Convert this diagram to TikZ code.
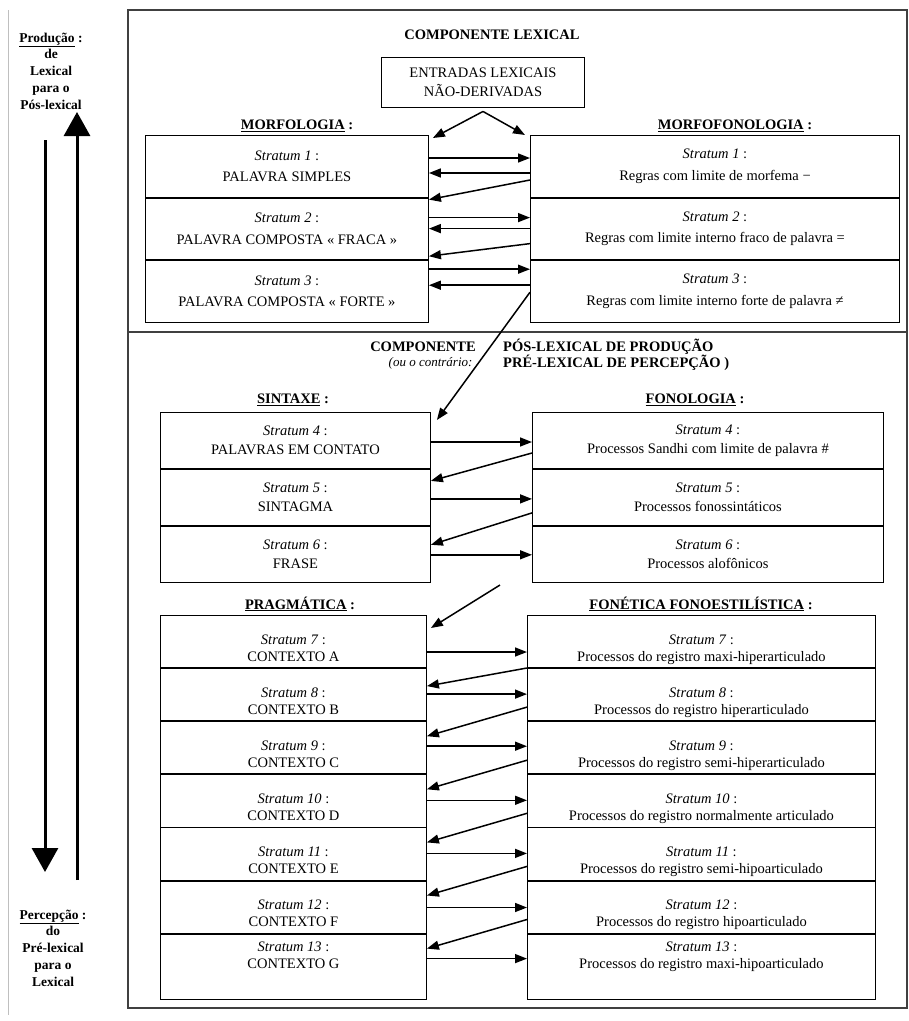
\documentclass[tikz,border=0pt]{standalone}
\usepackage{fontspec}
\setmainfont{Liberation Serif}
\usetikzlibrary{positioning, arrows.meta}

\begin{document}
\begin{tikzpicture}[
    x=1pt, y=-1pt,
    font=\fontsize{14.5}{19}\selectfont,
    heading/.style={font=\fontsize{14.5}{17}\selectfont\bfseries, inner sep=1pt},
    side/.style={font=\fontsize{13.5}{16.8}\selectfont\bfseries, align=center},
    cell/.style={draw, line width=0.9pt, align=center, inner sep=0pt},
    morf/.style={cell, font=\fontsize{14.5}{21.5}\selectfont, minimum width=283pt, minimum height=61.7pt},
    morfofon/.style={morf, minimum width=369pt},
    sint/.style={cell, font=\fontsize{14.5}{19}\selectfont, minimum width=270pt, minimum height=56pt},
    fon/.style={sint, minimum width=351pt},
    prag/.style={cell, font=\fontsize{14.5}{17}\selectfont, text height=43pt, text depth=4pt,
        minimum width=266pt, minimum height=52.2pt},
    fonet/.style={prag, minimum width=348pt},
    last/.style={minimum height=65pt, text height=27pt, text depth=23pt},
    link/.style={-{Triangle[length=12pt,width=9pt]}, line width=1.5pt},
    flow/.style={-{Triangle[length=24pt,width=26pt]}, line width=3pt}
]
    \useasboundingbox (0,0) rectangle (909,1021);

    % frame of the diagram and side column
    \draw[line width=1.3pt, black!75] (128,10) rectangle (907,1008);
    \draw[line width=1.3pt, black!75] (128,332) -- (907,332);
    \draw[line width=1pt, black!25] (8,10) -- (8,1015);

    % direction of the process
    \node[side] (prod) at (51,71) {\underline{Produção} :\\de\\Lexical\\para o\\Pós-lexical};
    \node[side] (perc) at (53,948) {\underline{Percepção} :\\do\\Pré-lexical\\para o\\Lexical};
    \coordinate (downtop) at (45,140);
    \coordinate (downend) at (45,872);
    \coordinate (upstart) at (77,880);
    \coordinate (upend) at (77,112);
    \draw[flow] (downtop) -- (downend);
    \draw[flow] (upstart) -- (upend);

    % lexical component
    \node[heading] (lexcomp) at (492,35) {COMPONENTE LEXICAL};
    \node[draw, line width=0.9pt, minimum width=203pt, minimum height=50pt, align=center] (entradas) at (483,82) {ENTRADAS LEXICAIS\\NÃO-DERIVADAS};
    \node[heading] (morfol) at (297,126) {\underline{MORFOLOGIA} :};
    \node[heading] (morfofonol) at (735,126) {\underline{MORFOFONOLOGIA} :};

    \node[morf, anchor=north west] (m1) at (145,135) {\textit{Stratum 1} :\\PALAVRA SIMPLES};
    \node[morf, below=0pt of m1] (m2) {\textit{Stratum 2} :\\PALAVRA COMPOSTA « FRACA »};
    \node[morf, below=0pt of m2] (m3) {\textit{Stratum 3} :\\PALAVRA COMPOSTA « FORTE »};

    \node[morfofon, anchor=north west] (mf1) at (530,135) {\textit{Stratum 1} :\\Regras com limite de morfema −};
    \node[morfofon, below=0pt of mf1] (mf2) {\textit{Stratum 2} :\\Regras com limite interno fraco de palavra =};
    \node[morfofon, below=0pt of mf2] (mf3) {\textit{Stratum 3} :\\Regras com limite interno forte de palavra ≠};

    \draw[link] ([yshift=-4pt]entradas.south) -- ([xshift=4pt,yshift=-3pt]m1.north east);
    \draw[link] ([yshift=-4pt]entradas.south) -- ([xshift=-5pt]mf1.north west);

    \draw[link] ([yshift=-23pt]m1.north east) -- ([yshift=-23pt]mf1.north west);
    \draw[link] ([yshift=-38pt]mf1.north west) -- ([yshift=-38pt]m1.north east);
    \draw[link] ([yshift=-45pt]mf1.north west) -- ([yshift=-2pt]m2.north east);
    \draw[link] ([yshift=-20pt]m2.north east) -- ([yshift=-20pt]mf2.north west);
    \draw[link] ([yshift=-31pt]mf2.north west) -- ([yshift=-31pt]m2.north east);
    \draw[link] ([yshift=-46pt]mf2.north west) -- ([yshift=4pt]m3.north east);
    \draw[link] ([yshift=-9pt]m3.north east) -- ([yshift=-9pt]mf3.north west);
    \draw[link] ([yshift=-25pt]mf3.north west) -- ([yshift=-25pt]m3.north east);

    % post-lexical component
    \node[heading, anchor=east] (compo) at (477,347) {COMPONENTE};
    \node[anchor=east, font=\fontsize{13}{16}\selectfont\itshape] (contr) at (476,363) {(ou o contrário:};
    \node[heading, anchor=west] (poslex) at (502,347) {PÓS-LEXICAL DE PRODUÇÃO};
    \node[heading, anchor=west] (prelex) at (502,363) {PRÉ-LEXICAL DE PERCEPÇÃO )};

    \node[heading] (sintaxe) at (293,400) {\underline{SINTAXE} :};
    \node[heading] (fonologia) at (695,400) {\underline{FONOLOGIA} :};

    \node[sint, anchor=north west] (s4) at (160,412) {\textit{Stratum 4} :\\PALAVRAS EM CONTATO};
    \node[sint, below=0pt of s4] (s5) {\textit{Stratum 5} :\\SINTAGMA};
    \node[sint, below=0pt of s5] (s6) {\textit{Stratum 6} :\\FRASE};

    \node[fon, anchor=north west] (p4) at (532,412) {\textit{Stratum 4} :\\Processos Sandhi com limite de palavra \#};
    \node[fon, below=0pt of p4] (p5) {\textit{Stratum 5} :\\Processos fonossintáticos};
    \node[fon, below=0pt of p5] (p6) {\textit{Stratum 6} :\\Processos alofônicos};

    \draw[link] ([yshift=-32pt]mf3.north west) -- ([xshift=6pt,yshift=-8pt]s4.north east);

    \draw[link] ([yshift=-30pt]s4.north east) -- ([yshift=-30pt]p4.north west);
    \draw[link] ([yshift=-41pt]p4.north west) -- ([yshift=-12pt]s5.north east);
    \draw[link] ([yshift=-30pt]s5.north east) -- ([yshift=-30pt]p5.north west);
    \draw[link] ([yshift=-44pt]p5.north west) -- ([yshift=-19pt]s6.north east);
    \draw[link] ([yshift=-29pt]s6.north east) -- ([yshift=-29pt]p6.north west);

    % pragmatics and phonetics
    \node[heading] (pragm) at (300,604) {\underline{PRAGMÁTICA} :};
    \node[heading] (fonet) at (701,604) {\underline{FONÉTICA FONOESTILÍSTICA} :};

    \node[prag, anchor=north west] (c7) at (160,615) {\textit{Stratum 7} :\\CONTEXTO A};
    \node[prag, below=0pt of c7] (c8) {\textit{Stratum 8} :\\CONTEXTO B};
    \node[prag, below=0pt of c8] (c9) {\textit{Stratum 9} :\\CONTEXTO C};
    \node[prag, below=0pt of c9] (c10) {\textit{Stratum 10} :\\CONTEXTO D};
    \node[prag, below=0pt of c10] (c11) {\textit{Stratum 11} :\\CONTEXTO E};
    \node[prag, below=0pt of c11] (c12) {\textit{Stratum 12} :\\CONTEXTO F};
    \node[prag, last, below=0pt of c12] (c13) {\textit{Stratum 13} :\\CONTEXTO G};

    \node[fonet, anchor=north west] (r7) at (527,615) {\textit{Stratum 7} :\\Processos do registro maxi-hiperarticulado};
    \node[fonet, below=0pt of r7] (r8) {\textit{Stratum 8} :\\Processos do registro hiperarticulado};
    \node[fonet, below=0pt of r8] (r9) {\textit{Stratum 9} :\\Processos do registro semi-hiperarticulado};
    \node[fonet, below=0pt of r9] (r10) {\textit{Stratum 10} :\\Processos do registro normalmente articulado};
    \node[fonet, below=0pt of r10] (r11) {\textit{Stratum 11} :\\Processos do registro semi-hipoarticulado};
    \node[fonet, below=0pt of r11] (r12) {\textit{Stratum 12} :\\Processos do registro hipoarticulado};
    \node[fonet, last, below=0pt of r12] (r13) {\textit{Stratum 13} :\\Processos do registro maxi-hipoarticulado};

    \coordinate (cut) at (500,585);
    \draw[link] (cut) -- ([xshift=4pt,yshift=-13pt]c7.north east);

    \draw[link] ([yshift=-37pt]c7.north east) -- ([yshift=-37pt]r7.north west);
    \draw[link] ([yshift=-53pt]r7.north west) -- ([yshift=-18pt]c8.north east);
    \draw[link] ([yshift=-26pt]c8.north east) -- ([yshift=-26pt]r8.north west);
    \draw[link] ([yshift=-39pt]r8.north west) -- ([yshift=-15pt]c9.north east);
    \draw[link] ([yshift=-25pt]c9.north east) -- ([yshift=-25pt]r9.north west);
    \draw[link] ([yshift=-39pt]r9.north west) -- ([yshift=-15pt]c10.north east);
    \draw[link] ([yshift=-26pt]c10.north east) -- ([yshift=-26pt]r10.north west);
    \draw[link] ([yshift=-39pt]r10.north west) -- ([yshift=-15pt]c11.north east);
    \draw[link] ([yshift=-26pt]c11.north east) -- ([yshift=-26pt]r11.north west);
    \draw[link] ([yshift=-39pt]r11.north west) -- ([yshift=-15pt]c12.north east);
    \draw[link] ([yshift=-27pt]c12.north east) -- ([yshift=-27pt]r12.north west);
    \draw[link] ([yshift=-39pt]r12.north west) -- ([yshift=-15pt]c13.north east);
    \draw[link] ([yshift=-25pt]c13.north east) -- ([yshift=-25pt]r13.north west);
\end{tikzpicture}
\end{document}
